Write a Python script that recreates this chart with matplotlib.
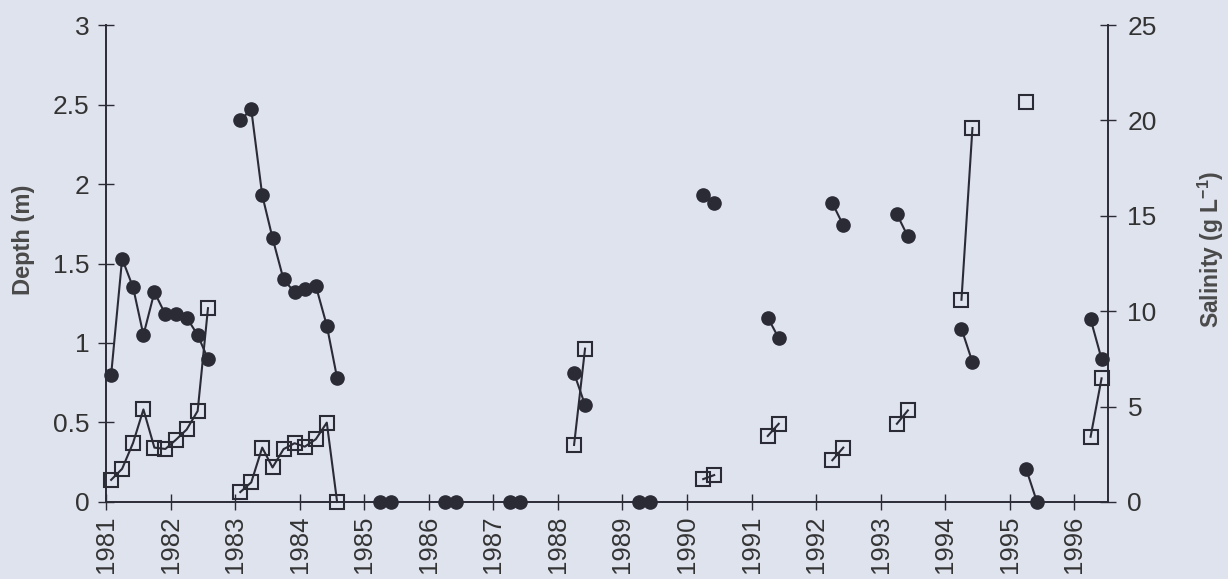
import numpy as np
import matplotlib.pyplot as plt

plt.rcParams['font.family'] = ['Liberation Sans', 'DejaVu Sans']
plt.rcParams['mathtext.fontset'] = 'custom'
plt.rcParams['mathtext.rm'] = 'Liberation Sans'
plt.rcParams['mathtext.bf'] = 'Liberation Sans:bold'

nan = np.nan

# sampling dates (decimal year), NaN = break between sampling campaigns
depth_t = [1981.08, 1981.25, 1981.42, 1981.58, 1981.75, 1981.92, 1982.08, 1982.25, 1982.42, 1982.58, nan,
           1983.08, 1983.25, 1983.42, 1983.58, 1983.75, 1983.92, 1984.08, 1984.25, 1984.42, 1984.58, nan,
           1985.25, 1985.42, nan, 1986.25, 1986.42, nan, 1987.25, 1987.42, nan,
           1988.25, 1988.42, nan, 1989.25, 1989.42, nan, 1990.25, 1990.42, nan,
           1991.25, 1991.42, nan, 1992.25, 1992.42, nan, 1993.25, 1993.42, nan,
           1994.25, 1994.42, nan, 1995.25, 1995.42, nan, 1996.25, 1996.42]
depth_m = [0.80, 1.53, 1.35, 1.05, 1.32, 1.18, 1.18, 1.16, 1.05, 0.90, nan,
           2.40, 2.47, 1.93, 1.66, 1.40, 1.32, 1.34, 1.36, 1.11, 0.78, nan,
           0, 0, nan, 0, 0, nan, 0, 0, nan,
           0.81, 0.61, nan, 0, 0, nan, 1.93, 1.88, nan,
           1.16, 1.03, nan, 1.88, 1.74, nan, 1.81, 1.67, nan,
           1.09, 0.88, nan, 0.21, 0, nan, 1.15, 0.90]

sal_t = [1981.08, 1981.25, 1981.42, 1981.58, 1981.75, 1981.92, 1982.08, 1982.25, 1982.42, 1982.58, nan,
         1983.08, 1983.25, 1983.42, 1983.58, 1983.75, 1983.92, 1984.08, 1984.25, 1984.42, 1984.58, nan,
         1988.25, 1988.42, nan, 1990.25, 1990.42, nan, 1991.25, 1991.42, nan,
         1992.25, 1992.42, nan, 1993.25, 1993.42, nan, 1994.25, 1994.42, nan,
         1995.25, nan, 1996.25, 1996.42]
sal_gl = [1.16, 1.74, 3.1, 4.85, 2.85, 2.78, 3.25, 3.8, 4.77, 10.16, nan,
          0.52, 1.03, 2.85, 1.81, 2.77, 3.08, 2.9, 3.29, 4.16, 0.0, nan,
          2.99, 8.04, nan, 1.2, 1.41, nan, 3.46, 4.1, nan,
          2.19, 2.85, nan, 4.1, 4.8, nan, 10.6, 19.6, nan,
          20.95, nan, 3.42, 6.48]

years = list(range(1981, 1997))

bg = '#dfe3ee'
ink = '#2b2b36'
txt = '#333333'

fig = plt.figure(figsize=(12.28, 5.79), dpi=100, facecolor=bg)
ax = fig.add_axes([0.0863, 0.133, 0.8160, 0.8238], facecolor=bg)
ax2 = ax.twinx()

ax.plot(depth_t, depth_m, color=ink, lw=1.5, marker='o', ms=9.5,
        mfc=ink, mec=ink, clip_on=False, zorder=3)
ax2.plot(sal_t, sal_gl, color=ink, lw=1.5, marker='s', ms=10,
         mfc='none', mec=ink, mew=1.5, clip_on=False, zorder=3)

ax.set_xlim(1981, 1996.52)
ax.set_ylim(0, 3)
ax2.set_ylim(0, 25)
ax.set_yticks([0, 0.5, 1, 1.5, 2, 2.5, 3])
ax.set_yticklabels(['0', '0.5', '1', '1.5', '2', '2.5', '3'])
ax2.set_yticks([0, 5, 10, 15, 20, 25])
ax.set_xticks(years)
ax.set_xticklabels([str(y) for y in years], rotation=90)

for a in (ax, ax2):
    a.spines['top'].set_visible(False)
    for s in a.spines.values():
        s.set_color(ink)
        s.set_linewidth(1.4)
ax.spines['right'].set_visible(False)
ax2.spines['left'].set_visible(False)
ax2.spines['bottom'].set_visible(False)

ax.tick_params(axis='both', direction='inout', length=12, width=1.0,
               color=ink, labelsize=19, labelcolor=txt)
ax.tick_params(axis='y', pad=6)
ax.tick_params(axis='x', pad=4, labelsize=18.5)
ax2.tick_params(axis='y', direction='inout', length=12, width=1.0,
                color=ink, labelsize=19, labelcolor=txt, pad=8)

ax.set_ylabel('Depth (m)', fontsize=17, fontweight='bold', color='#4a4a4a')
ax2.set_ylabel(r'Salinity (g L$^{\mathbf{-1}}$)', fontsize=16.5, fontweight='bold',
               color='#4a4a4a')
ax.yaxis.set_label_coords(-0.071, 0.549)
ax2.yaxis.set_label_coords(1.088, 0.53)

fig.savefig('out.png', dpi=100, facecolor=bg)
